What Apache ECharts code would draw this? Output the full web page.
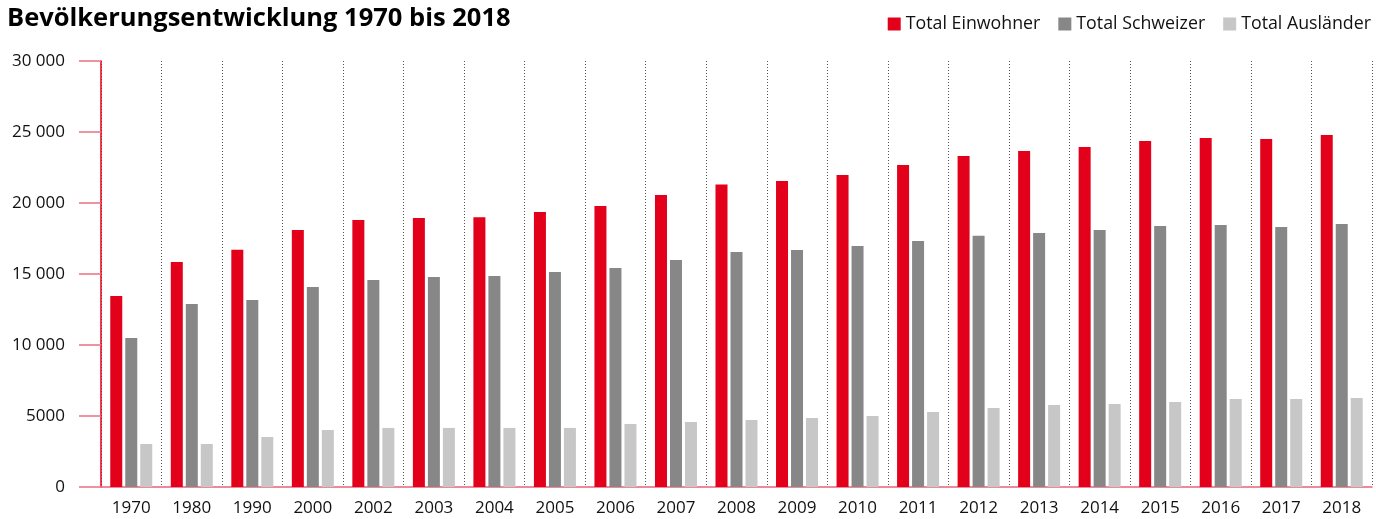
<!DOCTYPE html>
<html>
<head>
<meta charset="utf-8">
<script src="https://cdn.jsdelivr.net/npm/echarts@6/dist/echarts.min.js"></script>
<style>
html,body{margin:0;padding:0;background:#fff;}
#chart{width:1376px;height:519px;}
</style>
</head>
<body>
<div id="chart"></div>
<script>
var years = ['1970','1980','1990','2000','2002','2003','2004','2005','2006','2007','2008','2009','2010','2011','2012','2013','2014','2015','2016','2017','2018'];
var einwohner = [13450,15850,16700,18100,18800,18950,19000,19370,19790,20560,21300,21550,21970,22680,23310,23660,23940,24370,24580,24510,24790];
var schweizer = [10500,12890,13170,14090,14580,14790,14860,15140,15420,15990,16550,16690,16970,17320,17690,17890,18100,18380,18450,18310,18520];
var auslaender = [3030,3030,3520,4010,4160,4160,4160,4160,4440,4580,4720,4860,5000,5280,5560,5780,5850,5990,6200,6200,6270];
var seriesNames = ['Total Einwohner','Total Schweizer','Total Ausländer'];
var colors = ['#E2001A','#878787','#C6C7C6'];

var FONT = '"Open Sans", Lato, sans-serif';
function fmt(v){
  if (v >= 10000) { var s = String(v); return s.slice(0, s.length-3) + ' ' + s.slice(-3); }
  return String(v);
}
var chart = echarts.init(document.getElementById('chart'), null, {renderer:'canvas'});
chart.setOption({
  animation:false,
  color: colors,
  textStyle:{fontFamily:FONT},
  title:{
    text:'Bevölkerungsentwicklung 1970 bis 2018',
    left:2, top:1,
    textStyle:{fontFamily:FONT, fontWeight:'bold', fontSize:25.5, color:'#000'}
  },
  legend:{
    right:0, top:10,
    itemWidth:13, itemHeight:13, itemGap:18,
    icon:'rect',
    textStyle:{fontFamily:FONT, fontSize:17.8, color:'#111', padding:[0,0,0,0]},
    data: seriesNames
  },
  grid:{left:101, right:4, top:61, bottom:32, containLabel:false},
  xAxis:{
    type:'category',
    data: years,
    boundaryGap:true,
    axisLine:{show:true, lineStyle:{color:'#E8637A', width:1.5}},
    axisTick:{show:false},
    axisLabel:{fontFamily:FONT, fontSize:17, color:'#111', margin:13},
    splitLine:{show:true, interval:0, lineStyle:{color:'#555', type:[1,2], width:1}}
  },
  yAxis:{
    type:'value',
    min:0, max:30000, interval:5000,
    axisLine:{show:true, lineStyle:{color:'#E2001A', width:1.5}},
    axisTick:{show:true, inside:false, length:22, lineStyle:{color:'#EC7082', width:1.5}},
    axisLabel:{fontFamily:FONT, fontSize:17, color:'#111', margin:36, formatter:fmt},
    splitLine:{show:false}
  },
  series:[
    {name:seriesNames[0], type:'bar', data:einwohner, barWidth:12, barGap:'25%', itemStyle:{color:colors[0]}},
    {name:seriesNames[1], type:'bar', data:schweizer, barWidth:12, barGap:'25%', itemStyle:{color:colors[1]}},
    {name:seriesNames[2], type:'bar', data:auslaender, barWidth:12, barGap:'25%', itemStyle:{color:colors[2]}}
  ]
});
</script>
</body>
</html>
